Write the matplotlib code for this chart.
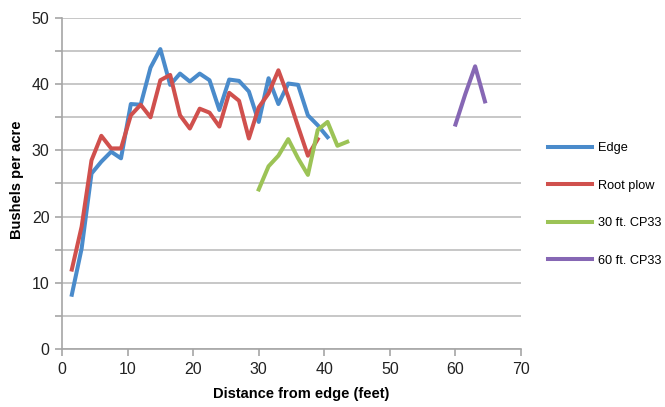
import matplotlib.pyplot as plt
from matplotlib.ticker import MultipleLocator

plt.rcParams['font.family'] = ['Liberation Sans', 'DejaVu Sans']

# distances (feet) and yields (bushels per acre)
edge_x = [1.5, 3, 4.5, 6, 7.5, 9, 10.5, 12, 13.5, 15, 16.5, 18, 19.5, 21,
          22.5, 24, 25.5, 27, 28.5, 30, 31.5, 33, 34.5, 36, 37.5, 39, 40.5]
edge_y = [8.2, 15.2, 26.5, 28.3, 29.8, 28.8, 37.0, 36.9, 42.5, 45.3, 39.9,
          41.6, 40.4, 41.6, 40.6, 36.1, 40.7, 40.5, 38.9, 34.3, 40.9, 37.0,
          40.1, 39.9, 35.3, 33.8, 32.0]

root_x = [1.5, 3, 4.5, 6, 7.5, 9, 10.5, 12, 13.5, 15, 16.5, 18, 19.5, 21,
          22.5, 24, 25.5, 27, 28.5, 30, 31.5, 33, 34.5, 36, 37.5, 39]
root_y = [12.0, 18.5, 28.5, 32.2, 30.3, 30.3, 35.3, 36.9, 35.0, 40.6, 41.4,
          35.3, 33.3, 36.3, 35.7, 33.6, 38.7, 37.5, 31.8, 36.5, 38.6, 42.1,
          38.1, 33.6, 29.2, 31.7]

cp30_x = [30, 31.5, 33, 34.5, 36, 37.5, 39, 40.5, 42, 43.5]
cp30_y = [24.1, 27.6, 29.2, 31.7, 28.8, 26.3, 33.1, 34.3, 30.7, 31.3]

cp60_x = [60, 61.5, 63, 64.5]
cp60_y = [33.9, 38.5, 42.7, 37.4]

fig = plt.figure(figsize=(6.65, 4.07), dpi=100)
ax = fig.add_axes([0.0932, 0.1425, 0.6903, 0.8133])

lw = 2.9
ax.plot(edge_x, edge_y, color='#4A8BCB', lw=lw, label='Edge')
ax.plot(root_x, root_y, color='#D0504D', lw=lw, label='Root plow')
ax.plot(cp30_x, cp30_y, color='#9CC356', lw=lw, label='30 ft. CP33')
ax.plot(cp60_x, cp60_y, color='#8667B4', lw=lw, label='60 ft. CP33')

ax.set_xlim(0, 70)
ax.set_ylim(0, 50)
ax.xaxis.set_major_locator(MultipleLocator(10))
ax.yaxis.set_major_locator(MultipleLocator(10))
ax.yaxis.set_minor_locator(MultipleLocator(5))
ax.grid(axis='y', which='both', color='#BDBDBD', lw=1.2)
ax.set_axisbelow(True)

for s in ['top', 'right']:
    ax.spines[s].set_visible(False)
for s in ['left', 'bottom']:
    ax.spines[s].set_color('#A6A6A6')
    ax.spines[s].set_linewidth(1.2)
ax.tick_params(which='both', color='#A6A6A6', width=1.2, length=5,
               labelsize=11.5, labelcolor='#222222', pad=4)

ax.set_xlabel('Distance from edge (feet)', fontsize=10.5, fontweight='bold')
ax.set_ylabel('Bushels per acre', fontsize=10.5, fontweight='bold')
ax.xaxis.set_label_coords(0.521, -0.115)
ax.yaxis.set_label_coords(-0.083, 0.51)

ax.legend(loc='center left', bbox_to_anchor=(1.059, 0.437), frameon=False,
          borderpad=0, borderaxespad=0, fontsize=9.2,
          handlelength=3.45, labelspacing=2.0, handletextpad=0.47)

fig.savefig('out.png', dpi=100)
